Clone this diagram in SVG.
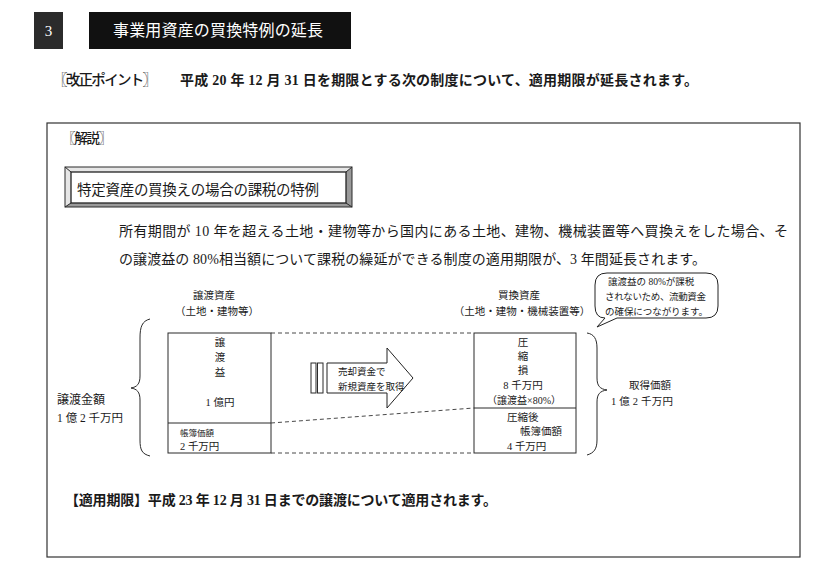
<svg xmlns="http://www.w3.org/2000/svg" width="837" height="569" viewBox="0 0 837 569">
<style>
text{font-family:"Liberation Serif","Noto Sans CJK JP",serif;fill:#1a1a1a}
.w{fill:#fff}
.s14{font-size:14px}
.s11{font-size:10.5px}
.s10{font-size:10px}
.s9{font-size:9.5px}
.b{font-weight:700}
.ln{fill:none;stroke:#2a2a2a;stroke-width:1}
.dash{fill:none;stroke:#333;stroke-width:0.9;stroke-dasharray:4 3}
.mid{text-anchor:middle}
</style>
<rect width="837" height="569" fill="#fff"/>
<g id="title">
<rect x="34" y="12" width="29" height="37" fill="#2b2b2b"/>
<text x="48.5" y="36" class="w mid" font-size="15">3</text>
<rect x="89" y="12" width="262" height="37" fill="#111"/>
<text x="218" y="36" class="w mid" font-size="16" textLength="210" lengthAdjust="spacing">事業用資産の買換特例の延長</text>
</g>
<g id="kaisei">
<text x="53" y="85" font-size="14.5" font-weight="500" textLength="104" lengthAdjust="spacing">〖改正ポイント〗</text>
<text x="180" y="85" class="s14 b" textLength="518" lengthAdjust="spacing">平成 20 年 12 月 31 日を期限とする次の制度について、適用期限が延長されます。</text>
</g>
<g id="panel">
<rect x="47" y="123" width="753" height="434" fill="none" stroke="#333" stroke-width="1.2"/>
<text x="62" y="143" font-size="13.5" font-weight="500" textLength="50" lengthAdjust="spacing">〖解説〗</text>
</g>
<g id="heading">
<path d="M65,167 H352 V207 H65 Z M71,172 V203 H346 V172 Z" fill="#e6e6e6" fill-rule="evenodd"/>
<path d="M346,172 L352,167 V207 L346,203 Z M71,203 L65,207 H352 L346,203 Z" fill="#9a9a9a"/>
<rect x="65" y="167" width="287" height="40" class="ln"/>
<rect x="71" y="172" width="275" height="31" fill="#fff" stroke="#222" stroke-width="1.3"/>
<path d="M65,167 L71,172 M352,167 L346,172 M65,207 L71,203 M352,207 L346,203" class="ln"/>
<text x="77" y="195" font-size="14.5" textLength="242" lengthAdjust="spacing">特定資産の買換えの場合の課税の特例</text>
</g>
<g id="paragraph">
<text x="119" y="236" class="s14" textLength="669" lengthAdjust="spacing">所有期間が 10 年を超える土地・建物等から国内にある土地、建物、機械装置等へ買換えをした場合、そ</text>
<text x="119" y="264" class="s14" textLength="587" lengthAdjust="spacing">の譲渡益の 80%相当額について課税の繰延ができる制度の適用期限が、3 年間延長されます。</text>
</g>
<g id="labels">
<text x="214" y="299" class="s11 mid">譲渡資産</text>
<text x="217" y="315" class="s11 mid">（土地・建物等）</text>
<text x="519" y="299" class="s11 mid">買換資産</text>
<text x="522" y="315" class="s11 mid">（土地・建物・機械装置等）</text>
</g>
<g id="callout">
<path d="M607,273 H706 Q718,273 718,285 V306 Q718,318 706,318 H617 L597,327 L605,318 Q595,318 595,306 V285 Q595,273 607,273 Z" fill="#fff" stroke="#222" stroke-width="1"/>
<text x="608" y="285" class="s9">譲渡益の 80%が課税</text>
<text x="605" y="300" class="s9" textLength="101" lengthAdjust="spacing">されないため、流動資金</text>
<text x="605" y="315" class="s9" textLength="103" lengthAdjust="spacing">の確保につながります。</text>
</g>
<g id="left-amount">
<path d="M150,319 C142,321 140,327 140,338 V376 C140,384 137,387 131,388 C137,389 140,392 140,400 V440 C140,450 142,454 150,456" class="ln"/>
<text x="57" y="404" font-size="12">譲渡金額</text>
<text x="57" y="422" font-size="11.5">1 億 2 千万円</text>
</g>
<g id="left-asset">
<rect x="168" y="333" width="103" height="120" class="ln"/>
<line x1="168" y1="423" x2="271" y2="423" class="ln"/>
<text x="220" y="346" class="s11 mid">譲</text>
<text x="220" y="361" class="s11 mid">渡</text>
<text x="220" y="376" class="s11 mid">益</text>
<text x="220" y="406" class="s11 mid">1 億円</text>
<text x="180" y="436" font-size="8.5">帳簿価額</text>
<text x="180" y="450" class="s11">2 千万円</text>
</g>
<g id="right-asset">
<rect x="474" y="333" width="102" height="120" class="ln"/>
<line x1="474" y1="408" x2="576" y2="408" class="ln"/>
<text x="523" y="346" class="s11 mid">圧</text>
<text x="523" y="360" class="s11 mid">縮</text>
<text x="523" y="374" class="s11 mid">損</text>
<text x="523" y="389" class="s11 mid">8 千万円</text>
<text x="524" y="404" class="s10 mid">（譲渡益×80%）</text>
<text x="507" y="421" class="s11">圧縮後</text>
<text x="520" y="435" class="s11">帳簿価額</text>
<text x="507" y="450" class="s11">4 千万円</text>
</g>
<g id="right-amount">
<path d="M587,333 C594,334 597,339 597,348 V378 C597,386 600,389 607,390 C600,391 597,394 597,402 V440 C597,449 594,453 587,455" class="ln"/>
<text x="629" y="389" class="s11">取得価額</text>
<text x="611" y="405" class="s11" textLength="62" lengthAdjust="spacing">1 億 2 千万円</text>
</g>
<g id="arrow">
<rect x="311" y="363" width="5" height="30" class="ln"/>
<rect x="317.5" y="363" width="5.5" height="30" class="ln"/>
<path d="M327,363 H387 V348 L413,378 L387,408 V393 H327 Z" fill="#fff" stroke="#222" stroke-width="1"/>
<text x="338" y="375" class="s9">売却資金で</text>
<text x="338" y="390" class="s9">新規資産を取得</text>
</g>
<g id="connectors">
<line x1="271" y1="333" x2="474" y2="333" class="dash"/>
<line x1="271" y1="423" x2="474" y2="408" class="dash"/>
<line x1="271" y1="453" x2="474" y2="453" class="dash"/>
</g>
<g id="period">
<text x="65" y="505" class="s14 b" textLength="432" lengthAdjust="spacing">【適用期限】平成 23 年 12 月 31 日までの譲渡について適用されます。</text>
</g>
</svg>
